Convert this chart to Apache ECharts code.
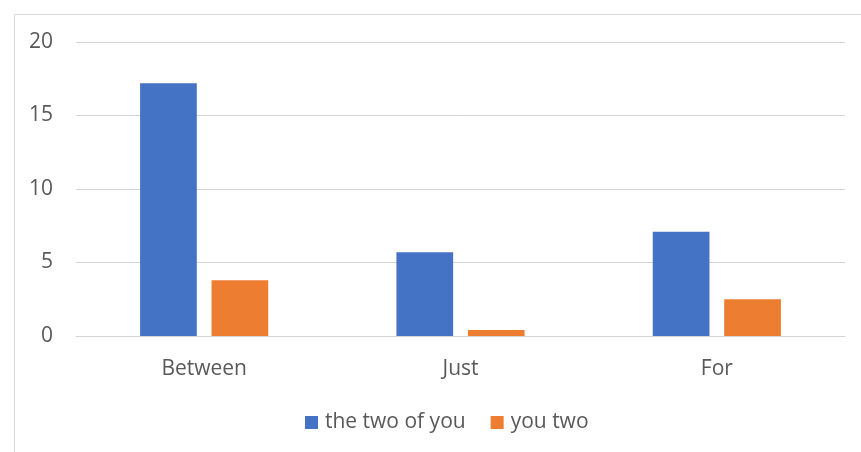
<!DOCTYPE html>
<html>
<head>
<meta charset="utf-8">
<script src="https://cdn.jsdelivr.net/npm/echarts@6/dist/echarts.min.js"></script>
<style>
  html, body { margin: 0; padding: 0; background: #fff; }
  #chart { width: 861px; height: 452px; }
</style>
</head>
<body>
<div id="chart"></div>
<script>
const categories = ['Between', 'Just', 'For'];
const seriesNames = ['the two of you', 'you two'];
const theTwoOfYou = [17.2, 5.7, 7.1];
const youTwo = [3.8, 0.4, 2.5];
const yTicks = { min: 0, max: 20, interval: 5 };

const textColor = '#595959';
const fontFamily = '"Open Sans", "Noto Sans", sans-serif';

const chart = echarts.init(document.getElementById('chart'), null, { renderer: 'canvas' });
chart.setOption({
  animation: false,
  backgroundColor: '#ffffff',
  textStyle: { fontFamily: fontFamily, color: textColor },
  graphic: [{
    type: 'rect',
    left: 12, top: 12,
    shape: { width: 900, height: 500 },
    style: { fill: 'none', stroke: '#d9d9d9', lineWidth: 1 },
    silent: true,
    z: -1
  }],
  grid: { left: 76, right: 16, top: 42, bottom: 116, containLabel: false },
  legend: {
    data: seriesNames,
    bottom: 14,
    left: 300,
    itemWidth: 13,
    itemHeight: 13,
    itemGap: 25,
    icon: 'rect',
    textStyle: { fontSize: 21, color: textColor, fontFamily: fontFamily, padding: [0, 0, 0, 2] }
  },
  xAxis: {
    type: 'category',
    data: categories,
    axisLine: { show: true, lineStyle: { color: '#d4d4d4', width: 1 } },
    axisTick: { show: false },
    axisLabel: { fontSize: 21, color: textColor, margin: 23, fontFamily: fontFamily }
  },
  yAxis: {
    type: 'value',
    min: yTicks.min,
    max: yTicks.max,
    interval: yTicks.interval,
    axisLine: { show: false },
    axisTick: { show: false },
    splitLine: { lineStyle: { color: '#d4d4d4', width: 1 } },
    axisLabel: { fontSize: 21, color: textColor, margin: 23, fontFamily: fontFamily }
  },
  series: [
    {
      name: seriesNames[0],
      type: 'bar',
      data: theTwoOfYou,
      barGap: '26%',
      barCategoryGap: '50%',
      itemStyle: { color: '#4472C4' }
    },
    {
      name: seriesNames[1],
      type: 'bar',
      data: youTwo,
      barGap: '26%',
      barCategoryGap: '50%',
      itemStyle: { color: '#ED7D31' }
    }
  ]
});
</script>
</body>
</html>
